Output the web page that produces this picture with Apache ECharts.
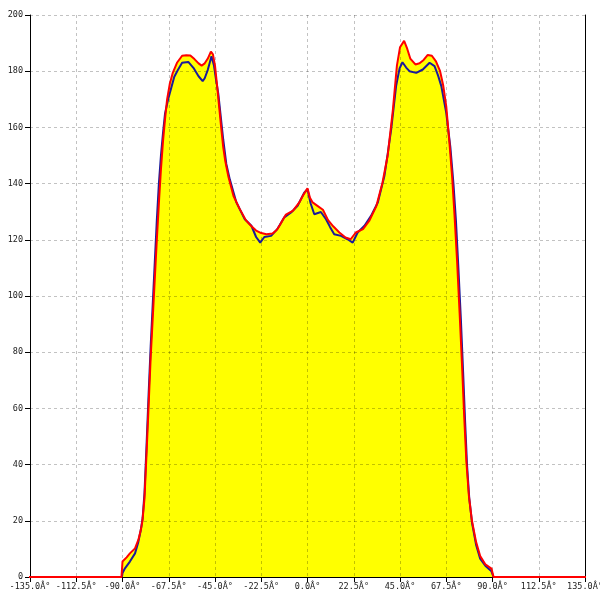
<!DOCTYPE html>
<html>
<head>
<meta charset="utf-8">
<script src="https://cdn.jsdelivr.net/npm/echarts@6/dist/echarts.min.js"></script>
<style>html,body{margin:0;padding:0;background:#fff;}#c{width:600px;height:600px;}</style>
</head>
<body>
<div id="c"></div>
<script>
const redAngles = [-150,-90.5,-90,-88,-86.4,-83.9,-82.3,-81.1,-80.3,-79.3,-78.3,-77.3,-76.3,-75.3,-74.3,-73.3,-72.3,-71.3,-70.3,-69.3,-68.3,-67,-65.5,-63.5,-61,-59,-57,-55,-53,-51.5,-50,-48.5,-47,-46,-45,-44,-43,-42,-41,-40,-38.5,-36,-33,-30,-27.5,-25,-22.5,-20,-17,-15,-13.5,-10.5,-7,-4,-2,0,1.2,2.5,5,7.5,10,12.5,15.5,18.5,21,23.5,27,30,33.5,36.5,39,41.5,43.5,45,47,48.5,50,52.5,54.5,56.5,58.5,60.5,62.5,64.5,66,67.5,69,70.4,71.5,72.8,74,75.2,76.3,77.3,78.5,80,82,84,86.5,89.5,90,90.5,150];
const redValues = [0,0,5.5,7,8.4,10.2,13.2,16.7,20,28,44,61,78,92,106,120,133,145,155,163,170,175.5,179.5,183,185.5,185.7,185.6,184.3,182.8,182,182.8,184.5,187,186,182,175,167.5,160,153,148,142.5,135.6,131,127,125,123.3,122.4,122,122.2,123.5,125.2,129,130.4,133.3,136,138.3,135,133.3,132,130.7,127,124.8,122.6,120.8,120.2,122.6,123.8,126.7,132,140.4,150,166,182,188.5,190.8,188,184.5,182.4,182.8,184,185.8,185.5,183.5,180,175,167.5,155,142,129,112,94,75,56,41,29,20,12.5,7.5,4.5,3,2.5,0,0];
const blueAngles = [-90.3,-90,-88.8,-86.4,-83.9,-82.3,-81.1,-80.2,-79.3,-78.3,-77.3,-76.3,-75.3,-74.3,-73.3,-72.3,-71.3,-70.3,-69.3,-67.8,-66.3,-64.8,-63,-61,-58,-55.5,-53,-51,-50,-48.5,-46.7,-45.5,-44.5,-43.4,-41,-39.5,-37.8,-34.6,-30.5,-27.3,-25,-23,-21,-17.7,-14.5,-11.3,-8,-4.8,-1.6,0,1.5,3.3,6.5,9,11,13,16.3,19.5,22,24.4,27.7,30.9,34.2,37.4,39,40.7,43.1,44.8,46.2,48,49.6,52.9,56.1,59.4,61.8,63.5,65.1,67.5,69.5,71,72.2,73.4,74.6,75.7,76.7,77.6,78.7,80,82,84,86.5,88,89.5,90,90.5];
const blueValues = [0,1.4,3.1,5.5,8.4,12.5,16.7,21,30,47,65,82,97,112,127,140,150,158,165,170,174,178,180.5,183,183.3,181.2,178.2,176.5,177.5,180.5,185.3,182,177,172,155.7,147,141.5,133.3,127.3,125,121,119,121,121.4,124,128,129.7,132.1,136.8,138,133,129.1,129.9,127.3,124.5,122,121.4,120.2,119,122.6,125,128.5,133.3,142.7,150.5,159.3,174.7,181,183.2,181.3,180,179.4,180.6,183,181.8,178.5,174.7,165.2,153,140,127,110,92,73,55,40,28,19.5,11.5,6.5,4,3,2,1,0];

const pair = (a, v) => a.map((x, i) => [x, v[i]]);
const redData = pair(redAngles, redValues);
const blueData = pair(blueAngles, blueValues);

const chart = echarts.init(document.getElementById('c'), null, {renderer: 'canvas'});
const font = '"DejaVu Sans Mono", monospace';
const gridColor = 'rgba(0,0,0,0.24)';
chart.setOption({
  animation: false,
  backgroundColor: '#ffffff',
  grid: {left: 30, right: 15, top: 15, bottom: 23, containLabel: false, outerBoundsMode: 'none'},
  xAxis: {
    type: 'value', min: -135, max: 135, interval: 22.5, z: 2,
    axisLine: {show: true, onZero: false, lineStyle: {color: '#000', width: 1}},
    axisTick: {show: true, length: 5, lineStyle: {color: '#000'}},
    axisLabel: {margin: 5, fontFamily: font, fontSize: 8.5, color: '#222', hideOverlap: false,
      formatter: v => v.toFixed(1) + 'Â°', showMinLabel: true, showMaxLabel: true},
    splitLine: {show: true, lineStyle: {color: gridColor, type: [3, 3], width: 1}}
  },
  yAxis: [{
    type: 'value', min: 0, max: 200, interval: 20, z: 2, position: 'left',
    axisLine: {show: true, onZero: false, lineStyle: {color: '#000', width: 1}},
    axisTick: {show: true, length: 5, lineStyle: {color: '#000'}},
    axisLabel: {margin: 7, fontFamily: font, fontSize: 8.5, color: '#222'},
    splitLine: {show: true, lineStyle: {color: gridColor, type: [3, 3], width: 1}}
  }, {
    type: 'value', min: 0, max: 200, interval: 20, position: 'right', z: 2,
    axisLine: {show: true, onZero: false, lineStyle: {color: '#000', width: 1}},
    axisTick: {show: false}, axisLabel: {show: false}, splitLine: {show: false}
  }],
  series: [
    {type: 'line', data: redData, symbol: 'none', z: 1, silent: true,
      lineStyle: {width: 0, opacity: 0}, areaStyle: {color: '#ffff00', opacity: 1}},
    {type: 'line', data: blueData, symbol: 'none', z: 3, silent: true,
      lineStyle: {color: '#1a1a9a', width: 2}},
    {type: 'line', data: redData, symbol: 'none', z: 4, clip: false, silent: true,
      lineStyle: {color: '#ff0000', width: 2}}
  ]
});
</script>
</body>
</html>
